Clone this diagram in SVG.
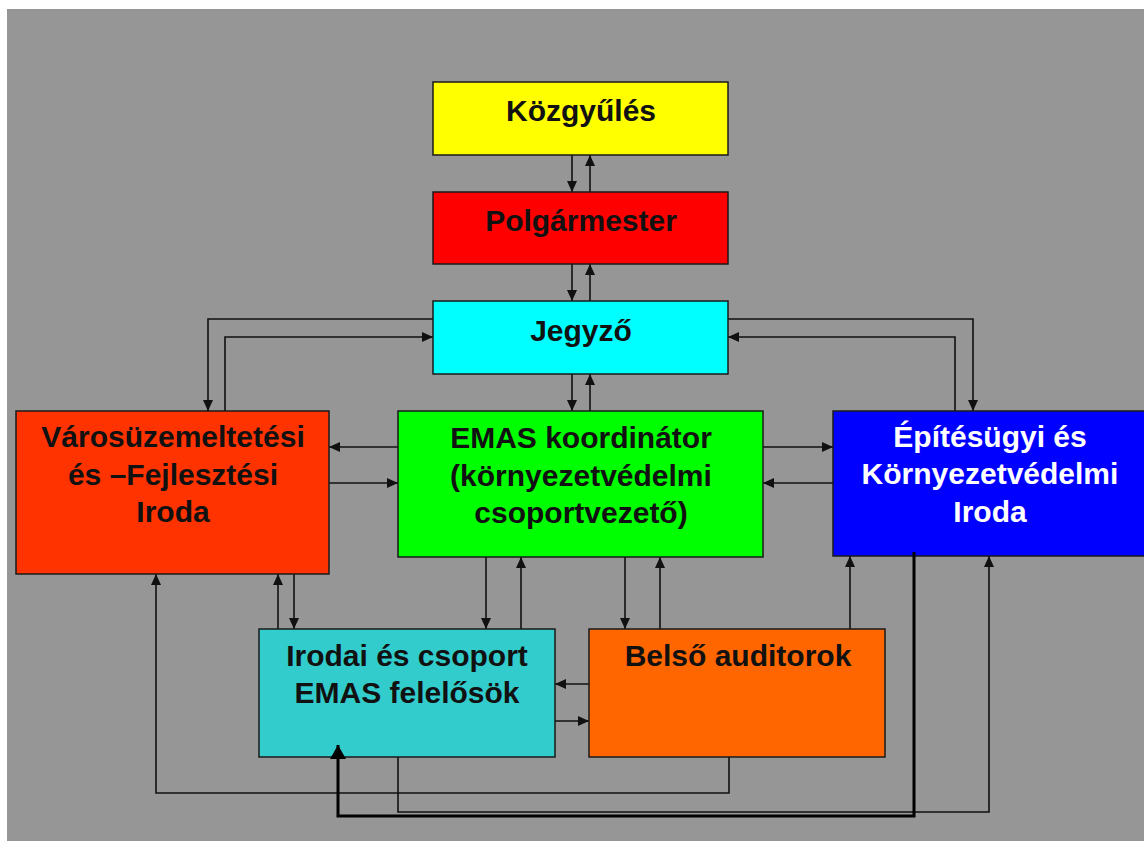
<svg xmlns="http://www.w3.org/2000/svg" width="1144" height="841" viewBox="0 0 1144 841">
  <style>
    .box { stroke: #1a1a1a; stroke-width: 1.5; }
    .t { font-family: "Liberation Sans", Arial, sans-serif; font-weight: bold; font-size: 30px; fill: #111; text-anchor: middle; }
    .tw { fill: #ffffff; }
    .c { fill: none; stroke: #111; stroke-width: 1.6; marker-end: url(#arr); }
    .ct { fill: none; stroke: #000; stroke-width: 3; marker-end: url(#arrBig); }
  </style>
  <defs>
    <marker id="arr" markerUnits="userSpaceOnUse" markerWidth="11" markerHeight="10" refX="11" refY="5" orient="auto">
      <path d="M0,0 L11,5 L0,10 z" fill="#111"/>
    </marker>
    <marker id="arrBig" markerUnits="userSpaceOnUse" markerWidth="14" markerHeight="16" refX="14" refY="8" orient="auto">
      <path d="M0,0 L14,8 L0,16 z" fill="#000"/>
    </marker>
  </defs>
  <rect x="0" y="0" width="1144" height="841" fill="#ffffff"/>
  <rect x="7" y="9" width="1137" height="832" fill="#969696"/>

  <g id="connectors">
    <path class="c" d="M572,155 V192"/>
    <path class="c" d="M590,192 V155"/>
    <path class="c" d="M572,264 V301"/>
    <path class="c" d="M590,301 V264"/>
    <path class="c" d="M572,374 V411"/>
    <path class="c" d="M590,411 V374"/>
    <path class="c" d="M433,319 H208 V411"/>
    <path class="c" d="M225,411 V337 H433"/>
    <path class="c" d="M728,319 H973 V411"/>
    <path class="c" d="M955,411 V337 H728"/>
    <path class="c" d="M398,447 H329"/>
    <path class="c" d="M329,483 H398"/>
    <path class="c" d="M763,447 H833"/>
    <path class="c" d="M833,483 H763"/>
    <path class="c" d="M486,557 V629"/>
    <path class="c" d="M521,629 V557"/>
    <path class="c" d="M625,557 V629"/>
    <path class="c" d="M660,629 V557"/>
    <path class="c" d="M278,629 V574"/>
    <path class="c" d="M294,574 V629"/>
    <path class="c" d="M850,629 V556"/>
    <path class="c" d="M589,684 H555"/>
    <path class="c" d="M555,721 H589"/>
    <path class="c" d="M729,757 V793 H156 V574"/>
    <path class="c" d="M398,757 V812 H989 V556"/>
  </g>

  <g id="kozgyules">
    <rect class="box" x="433" y="82" width="295" height="73" fill="#ffff00"/>
    <text class="t" x="581" y="121">Közgyűlés</text>
  </g>
  <g id="polgarmester">
    <rect class="box" x="433" y="192" width="295" height="72" fill="#ff0000"/>
    <text class="t" x="581" y="231">Polgármester</text>
  </g>
  <g id="jegyzo">
    <rect class="box" x="433" y="301" width="295" height="73" fill="#00ffff"/>
    <text class="t" x="581" y="341">Jegyző</text>
  </g>
  <g id="varosuzemeltetesi">
    <rect class="box" x="16" y="411" width="313" height="163" fill="#ff3300"/>
    <text class="t" x="173" y="447">Városüzemeltetési</text>
    <text class="t" x="173" y="485">és –Fejlesztési</text>
    <text class="t" x="173" y="522">Iroda</text>
  </g>
  <g id="emas-koordinator">
    <rect class="box" x="398" y="411" width="365" height="146" fill="#00ff00"/>
    <text class="t" x="581" y="448">EMAS koordinátor</text>
    <text class="t" x="581" y="486">(környezetvédelmi</text>
    <text class="t" x="581" y="523">csoportvezető)</text>
  </g>
  <g id="epitesugyi">
    <rect class="box" x="833" y="411" width="320" height="145" fill="#0000ff"/>
    <text class="t tw" x="990" y="447">Építésügyi és</text>
    <text class="t tw" x="990" y="484">Környezetvédelmi</text>
    <text class="t tw" x="990" y="522">Iroda</text>
  </g>
  <g id="irodai">
    <rect class="box" x="259" y="629" width="296" height="128" fill="#33cccc"/>
    <text class="t" x="407" y="666">Irodai és csoport</text>
    <text class="t" x="407" y="703">EMAS felelősök</text>
  </g>
  <g id="belso-auditorok">
    <rect class="box" x="589" y="629" width="296" height="128" fill="#ff6600"/>
    <text class="t" x="738" y="666">Belső auditorok</text>
  </g>

  <g id="connector-thick">
    <path class="ct" d="M914,552 V816 H338 V745"/>
  </g>
</svg>
